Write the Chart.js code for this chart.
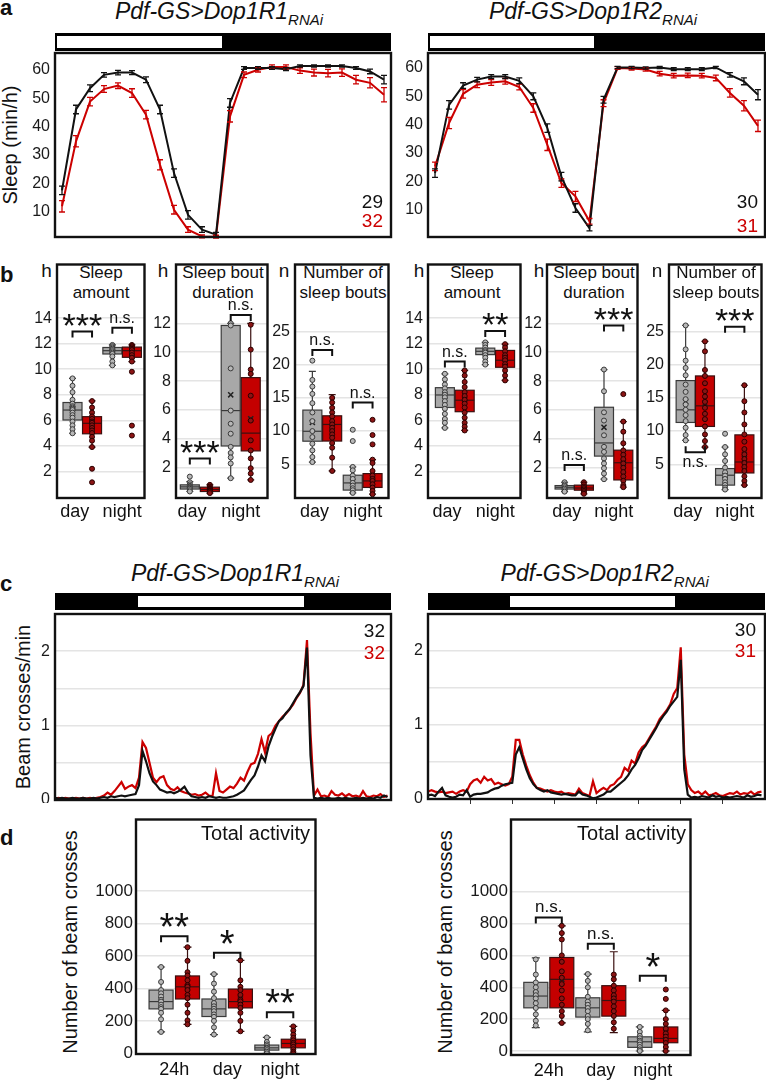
<!DOCTYPE html>
<html>
<head>
<meta charset="utf-8">
<script src="https://cdn.jsdelivr.net/npm/chart.js@4.4.0/dist/chart.umd.min.js"></script>
<style>
  body { margin: 0; background: #fff; }
  #fig { position: relative; width: 766px; height: 1080px; overflow: hidden;
         font-family: 'Liberation Sans', Arial, sans-serif; color: #111; }
  .t { position: absolute; white-space: nowrap; line-height: 1; }
  .t sub { font-size: 15px; vertical-align: baseline; position: relative; top: 6px; }
  canvas { position: absolute; }
  .lbar { position: absolute; background: #000; }
  .lbar div { position: absolute; top: 3px; bottom: 3px; background: #fff; }
</style>
</head>
<body>
<div id="fig"></div>
<script>
// ---- panel a: sleep profile (min/h), 24 hourly bins, ZT0-23
const sleepTicks = [10, 20, 30, 40, 50, 60];
const r1SleepCtrl = [17.5, 46, 53.5, 58.2, 59, 59, 56.5, 46, 23.6, 8.9, 3.7, 1.9, 48.3, 60.6, 60.6, 60.6, 60.2, 61.3, 61.3, 61.3, 61.3, 60.6, 59.4, 56.5];
const r1SleepCtrlSem = [1.5, 1.5, 1.2, 0.8, 0.8, 0.7, 1, 1.5, 1.5, 1.5, 1, 0.8, 1.5, 0.5, 0.5, 0.5, 0.5, 0.4, 0.4, 0.4, 0.4, 0.5, 0.8, 1.5];
const r1SleepRnai = [11.9, 34.8, 48.8, 53.2, 54.4, 51.8, 44.2, 26.5, 10.7, 3.7, 1.3, 1.2, 43.6, 58.2, 60.0, 61.0, 61.0, 59.7, 59.0, 58.8, 59.0, 56.5, 55.4, 51.2];
const r1SleepRnaiSem = [2, 2, 1.5, 1.2, 1, 1.5, 1.5, 1.8, 1.5, 1, 0.5, 0.5, 2, 1, 0.8, 0.7, 0.7, 1, 1.2, 1.3, 1.3, 1.5, 1.8, 2.5];
const r2SleepCtrl = [22.9, 47, 53.8, 55.9, 57, 57, 55.5, 50, 38.8, 21.7, 10.6, 3.5, 48.8, 60.2, 60.2, 60, 60.2, 59.6, 59.6, 59.6, 60.2, 57.6, 55.3, 50.6];
const r2SleepCtrlSem = [1.5, 1.5, 1, 0.8, 0.7, 0.7, 1, 1.2, 1.5, 1.5, 1.5, 1, 1.2, 0.4, 0.4, 0.4, 0.4, 0.5, 0.5, 0.5, 0.4, 0.8, 1.2, 1.8];
const r2SleepRnai = [25.3, 40.6, 50.9, 54.1, 54.9, 55.3, 53.3, 45.9, 32.9, 19.4, 14.7, 5.9, 47.6, 60, 59.8, 59.5, 58, 57.3, 57.4, 57.3, 56.5, 51.2, 46.7, 39.6];
const r2SleepRnaiSem = [1.5, 2, 1.5, 1, 1, 1, 1, 1.5, 2, 1.5, 1.8, 1, 1.2, 0.5, 0.5, 0.6, 0.8, 0.8, 0.8, 0.8, 1, 1.5, 1.8, 2];
const r1N = ['29', '32'];
const r2N = ['30', '31'];

// ---- panel b: sleep parameters, boxes as [min, q1, median, q3, max]
const bCats = ['day', 'night'];
const amountTicks = [2, 4, 6, 8, 10, 12, 14];
const boutTicks = [2, 4, 6, 8, 10, 12];
const countTicks = [5, 10, 15, 20, 25];

const r1AmountCtrlBox = [[4.98, 6.02, 6.8, 7.39, 9.28], [10.3, 11.19, 11.45, 11.7, 11.9]];
const r1AmountRnaiBox = [[3.9, 4.94, 5.76, 6.28, 7.52], [10.6, 10.93, 11.45, 11.73, 11.9]];
const r1AmountCtrlMean = [6.9, 11.4];
const r1AmountRnaiMean = [5.6, 11.0];
const r1AmountCtrlPts = [[9.28, 8.7, 8.2, 7.6, 7.3, 7.1, 7.0, 6.9, 6.8, 6.6, 6.4, 6.2, 5.9, 5.6, 5.3, 4.98], [11.9, 11.8, 11.7, 11.6, 11.5, 11.4, 11.3, 11.2, 11.0, 10.6, 10.3]];
const r1AmountRnaiPts = [[7.5, 7.0, 6.6, 6.3, 6.1, 5.9, 5.8, 5.6, 5.4, 5.2, 5.0, 4.7, 4.4, 3.9, 2.2, 1.14], [11.9, 11.8, 11.7, 11.6, 11.5, 11.3, 11.1, 10.9, 10.6, 9.8, 5.58, 4.8]];
const r1AmountSig = ['***', 'n.s.'];

const r1BoutCtrlBox = [[0.36, 0.53, 0.68, 0.82, 1.05], [1.28, 3.51, 5.96, 11.85, 12.0]];
const r1BoutRnaiBox = [[0.25, 0.36, 0.5, 0.66, 0.82], [1.16, 3.17, 4.4, 8.24, 12.0]];
const r1BoutCtrlMean = [0.7, 7.05];
const r1BoutRnaiMean = [0.5, 5.39];
const r1BoutCtrlPts = [[1.39, 1.0, 0.85, 0.75, 0.7, 0.65, 0.6, 0.55, 0.45, 0.36], [12.0, 11.85, 8.88, 5.96, 5.05, 4.36, 3.45, 3.03, 2.72, 2.3, 1.28]];
const r1BoutRnaiPts = [[0.82, 0.7, 0.6, 0.55, 0.5, 0.45, 0.4, 0.35, 0.25], [11.9, 10.18, 8.8, 8.5, 6.99, 5.27, 3.9, 3.2, 2.65, 1.97, 1.6, 1.16]];
const r1BoutSig = ['***', 'n.s.'];

const r1CountCtrlBox = [[5.34, 8.48, 9.97, 13.16, 19.0], [0.7, 1.12, 2.2, 3.36, 4.6]];
const r1CountRnaiBox = [[4.0, 8.5, 11.0, 12.3, 15.5], [0.5, 1.52, 2.5, 3.6, 5.7]];
const r1CountCtrlMean = [11.3, 2.4];
const r1CountRnaiMean = [10.5, 2.7];
const r1CountCtrlPts = [[20.6, 17.7, 16.7, 15.6, 14.2, 12.8, 11.5, 10.0, 9.1, 8.1, 7.1, 6.1, 5.34], [10.2, 8.5, 4.6, 4.1, 3.3, 2.8, 2.2, 1.8, 1.4, 1.1, 0.7]];
const r1CountRnaiPts = [[15.0, 14.3, 13.5, 12.8, 12.2, 11.5, 11.0, 10.5, 10.0, 9.5, 9.0, 8.2, 7.5, 6.0, 4.0], [11.7, 9.4, 8.0, 5.7, 5.2, 4.0, 3.3, 2.8, 2.5, 2.0, 1.5, 1.0, 0.5]];
const r1CountSig = ['n.s.', 'n.s.'];

const r2AmountCtrlBox = [[5.4, 7.0, 7.98, 8.55, 9.64], [10.36, 11.14, 11.4, 11.65, 12.1]];
const r2AmountRnaiBox = [[5.2, 6.67, 7.57, 8.35, 9.9], [9.12, 10.15, 10.7, 11.47, 11.96]];
const r2AmountCtrlMean = [7.9, 11.4];
const r2AmountRnaiMean = [7.6, 10.8];
const r2AmountCtrlPts = [[9.64, 9.2, 8.8, 8.5, 8.2, 8.0, 7.8, 7.5, 7.2, 6.9, 6.5, 6.1, 5.8, 5.4], [12.1, 11.9, 11.7, 11.5, 11.4, 11.3, 11.1, 10.9, 10.6, 10.36]];
const r2AmountRnaiPts = [[9.9, 9.5, 9.0, 8.6, 8.2, 7.9, 7.6, 7.3, 7.0, 6.6, 6.2, 5.8, 5.5, 5.2], [11.96, 11.7, 11.4, 11.1, 10.9, 10.7, 10.4, 10.2, 9.9, 9.5, 9.12]];
const r2AmountSig = ['n.s.', '**'];

const r2BoutCtrlBox = [[0.35, 0.53, 0.65, 0.77, 1.0], [1.21, 2.81, 3.72, 6.19, 8.8]];
const r2BoutRnaiBox = [[0.2, 0.45, 0.6, 0.8, 1.0], [0.66, 1.16, 2.35, 3.22, 5.2]];
const r2BoutCtrlMean = [0.65, 4.8];
const r2BoutRnaiMean = [0.6, 2.3];
const r2BoutCtrlPts = [[1.0, 0.85, 0.75, 0.65, 0.55, 0.45, 0.35], [8.8, 7.3, 5.84, 5.27, 4.25, 3.45, 3.1, 2.65, 2.3, 1.97, 1.6, 1.21]];
const r2BoutRnaiPts = [[1.0, 0.85, 0.7, 0.6, 0.5, 0.4, 0.3, 0.2], [7.1, 5.2, 4.5, 3.7, 3.2, 2.9, 2.6, 2.3, 2.0, 1.7, 1.4, 1.1, 0.8, 0.66]];
const r2BoutSig = ['n.s.', '***'];

const r2CountCtrlBox = [[8.6, 11.3, 13.2, 17.6, 25.9], [1.2, 1.87, 3.36, 4.36, 7.6]];
const r2CountRnaiBox = [[7.6, 10.7, 13.8, 18.3, 23.5], [1.87, 3.7, 5.35, 9.43, 16.9]];
const r2CountCtrlMean = [14.4, 3.3];
const r2CountRnaiMean = [14.2, 6.5];
const r2CountCtrlPts = [[25.9, 22.3, 20.6, 19.5, 18.4, 17.0, 15.9, 14.8, 14.0, 13.2, 12.4, 11.5, 10.5, 9.4, 8.6], [9.6, 7.6, 6.5, 5.5, 4.5, 3.8, 3.3, 2.8, 2.3, 1.9, 1.5, 1.2]];
const r2CountRnaiPts = [[23.5, 22.0, 19.2, 18.3, 17.2, 16.0, 15.2, 14.4, 13.5, 12.6, 11.8, 10.7, 9.5, 8.5, 7.6], [16.9, 14.5, 12.8, 11.0, 9.5, 8.4, 7.3, 6.5, 5.8, 5.2, 4.6, 4.0, 3.2, 2.5, 1.87]];
const r2CountSig = ['n.s.', '***'];

// ---- panel c: activity (beam crosses/min), 15-min bins from ZT18 to ZT42
const beamTicks = [0, 0.5, 1, 1.5, 2];
const r1BeamCtrl = [0.03, 0.02, 0.03, 0.02, 0.02, 0.03, 0.02, 0.02, 0.03, 0.02, 0.02, 0.03, 0.02, 0.03,
  0.04, 0.03, 0.05, 0.04, 0.05, 0.06, 0.05, 0.06, 0.07, 0.08,
  0.2, 0.66, 0.52, 0.36, 0.25, 0.2, 0.14, 0.12, 0.1, 0.11, 0.09, 0.11, 0.14, 0.18,
  0.1, 0.05, 0.04, 0.03, 0.04, 0.03, 0.05, 0.04, 0.03, 0.04, 0.03, 0.03, 0.04, 0.05, 0.07, 0.1,
  0.13, 0.2, 0.27, 0.33, 0.45, 0.6, 0.52, 0.72, 0.85, 0.96, 1.06, 1.1, 1.17, 1.22, 1.3, 1.38, 1.45, 1.53,
  2.05, 0.6, 0.03, 0.02, 0.03, 0.02, 0.03, 0.02, 0.02, 0.03, 0.02, 0.03, 0.02, 0.02, 0.03, 0.02, 0.03, 0.02, 0.03, 0.02, 0.04, 0.03, 0.06, 0.04];
const r1BeamRnai = [0.02, 0.03, 0.02, 0.03, 0.02, 0.02, 0.03, 0.02, 0.03, 0.02, 0.03, 0.02, 0.03, 0.04,
  0.06, 0.1, 0.07, 0.12, 0.18, 0.24, 0.15, 0.18, 0.2, 0.16,
  0.3, 0.78, 0.7, 0.5, 0.3, 0.24, 0.3, 0.32, 0.2, 0.15, 0.13, 0.17, 0.12, 0.1,
  0.09, 0.07, 0.08, 0.06, 0.07, 0.1, 0.06, 0.05, 0.36, 0.12, 0.1, 0.14, 0.18, 0.16, 0.22, 0.3,
  0.26, 0.38, 0.48, 0.5, 0.62, 0.82, 0.64, 0.86, 0.9, 1.0, 1.06, 1.12, 1.16, 1.22, 1.28, 1.37, 1.44, 1.55,
  2.15, 0.9, 0.06, 0.14, 0.05, 0.06, 0.04, 0.12, 0.07, 0.06, 0.09, 0.05, 0.08, 0.05, 0.06, 0.04, 0.12, 0.05, 0.04, 0.06, 0.05, 0.08, 0.04, 0.06];
const r2BeamCtrl = [0.05, 0.06, 0.04, 0.1, 0.15, 0.05, 0.03, 0.02, 0.03, 0.06, 0.05, 0.12, 0.03, 0.06,
  0.07, 0.07, 0.08, 0.09, 0.12, 0.14, 0.15, 0.18, 0.2, 0.21,
  0.22, 0.6, 0.7, 0.55, 0.4, 0.28, 0.2, 0.15, 0.12, 0.1, 0.12, 0.09, 0.08, 0.07,
  0.06, 0.07, 0.06, 0.05, 0.05, 0.1, 0.06, 0.05, 0.03, 0.01, 0.02, 0.04, 0.06, 0.1, 0.1, 0.14,
  0.18, 0.22, 0.26, 0.32, 0.4, 0.46, 0.55, 0.66, 0.72, 0.8, 0.88, 0.96, 1.05, 1.12, 1.18, 1.26, 1.32, 1.38,
  1.88, 0.4, 0.06, 0.02, 0.03, 0.02, 0.04, 0.03, 0.02, 0.05, 0.03, 0.04, 0.02, 0.03, 0.02, 0.03, 0.04, 0.03, 0.02, 0.05, 0.03, 0.04, 0.06, 0.05];
const r2BeamRnai = [0.1, 0.12, 0.1, 0.09, 0.1, 0.08, 0.09, 0.1, 0.07, 0.1, 0.12, 0.1, 0.2, 0.25,
  0.27, 0.22, 0.3, 0.25, 0.27, 0.2, 0.22, 0.2, 0.18, 0.2,
  0.3, 0.8, 0.8, 0.6, 0.45, 0.32, 0.22, 0.15, 0.14, 0.12, 0.1, 0.12, 0.1, 0.09,
  0.1, 0.07, 0.08, 0.07, 0.06, 0.14, 0.08, 0.06, 0.04, 0.24, 0.08, 0.12, 0.15, 0.12, 0.18, 0.2,
  0.26, 0.3, 0.42, 0.38, 0.52, 0.48, 0.63, 0.7, 0.74, 0.82, 0.9, 0.98, 1.08, 1.14, 1.2, 1.28, 1.42, 1.5,
  2.05, 0.6, 0.2, 0.12, 0.08, 0.1, 0.06, 0.1, 0.05, 0.06, 0.08, 0.05, 0.04, 0.06, 0.08, 0.07, 0.1, 0.06, 0.08, 0.07, 0.1, 0.06, 0.09, 0.1];
const r1BeamN = ['32', '32'];
const r2BeamN = ['30', '31'];

// ---- panel d: total activity (beam crosses)
const totalCats = ['24h', 'day', 'night'];
const totalTicks = [0, 200, 400, 600, 800, 1000];
const r1TotalCtrlBox = [[132, 274, 319, 390, 532], [116, 227, 274, 335, 488], [0, 20, 34, 51, 98]];
const r1TotalRnaiBox = [[179, 335, 410, 477, 654], [136, 280, 319, 396, 573], [0, 34, 61, 87, 166]];
const r1TotalCtrlMean = [330, 285, 38];
const r1TotalRnaiMean = [410, 335, 65];
const r1TotalCtrlPts = [[532, 440, 390, 370, 350, 330, 319, 300, 285, 274, 250, 210, 132], [488, 430, 380, 340, 310, 290, 275, 260, 240, 225, 200, 160, 116], [98, 70, 55, 45, 35, 30, 20, 10, 0]];
const r1TotalRnaiPts = [[654, 570, 500, 480, 450, 420, 410, 390, 360, 340, 300, 250, 203, 179], [573, 450, 410, 390, 360, 330, 320, 300, 280, 250, 200, 136], [166, 140, 115, 95, 80, 65, 55, 40, 25, 10, 0]];
const r1TotalSig = ['**', '*', '**'];

const r2TotalCtrlBox = [[147, 271, 345, 431, 584], [120, 213, 271, 334, 483], [0, 23, 58, 89, 151]];
const r2TotalRnaiBox = [[176, 271, 450, 587, 786], [116, 219, 317, 410, 623], [0, 52, 79, 151, 255]];
const r2TotalCtrlMean = [360, 280, 65];
const r2TotalRnaiMean = [450, 330, 115];
const r2TotalCtrlPts = [[575, 480, 430, 400, 370, 350, 330, 300, 270, 230, 190, 160], [483, 440, 400, 340, 310, 290, 270, 250, 220, 200, 170, 130], [151, 120, 95, 80, 65, 55, 40, 25, 10, 0]];
const r2TotalRnaiPts = [[786, 740, 700, 600, 560, 500, 460, 420, 380, 330, 290, 250, 220, 176], [480, 450, 410, 380, 350, 330, 310, 280, 250, 220, 180, 140], [386, 327, 255, 200, 170, 140, 110, 90, 70, 50, 25, 0]];
const r2TotalSig = ['n.s.', 'n.s.', '*'];

// ---------------------------------------------------------------
const FONT = "'Liberation Sans', Arial, sans-serif";
const RED = '#cc0000';
const CTRL = { box: '#a8a8a8', edge: '#3a3a3a', pt: '#b8b8b8', ptEdge: '#3a3a3a' };
const RNAI = { box: '#c40000', edge: '#3a1010', pt: '#8a1414', ptEdge: '#2a0000' };
const fig = document.getElementById('fig');

Chart.defaults.font.family = FONT;
Chart.defaults.color = '#1a1a1a';
Chart.defaults.animation = false;
Chart.defaults.plugins.legend.display = false;
Chart.defaults.plugins.tooltip.enabled = false;

// frame round the plot area
const frame = {
  id: 'frame',
  afterDraw(chart) {
    const { ctx, chartArea: a } = chart;
    ctx.save();
    ctx.strokeStyle = '#111';
    ctx.lineWidth = 2.4;
    ctx.strokeRect(a.left, a.top, a.right - a.left, a.bottom - a.top);
    ctx.restore();
  }
};

// SEM bars for the sleep profiles
const errorBars = {
  id: 'errorBars',
  afterDatasetsDraw(chart) {
    const { ctx, scales: { y } } = chart;
    for (let d = chart.data.datasets.length - 1; d >= 0; d--) {
      const ds = chart.data.datasets[d];
      if (!ds.sem) continue;
      ctx.save();
      ctx.strokeStyle = ds.borderColor;
      ctx.lineWidth = 1.3;
      chart.getDatasetMeta(d).data.forEach((p, i) => {
        const v = ds.data[i].y, e = ds.sem[i];
        const top = y.getPixelForValue(v + e), bot = y.getPixelForValue(v - e);
        ctx.beginPath();
        ctx.moveTo(p.x, top); ctx.lineTo(p.x, bot);
        ctx.moveTo(p.x - 3, top); ctx.lineTo(p.x + 3, top);
        ctx.moveTo(p.x - 3, bot); ctx.lineTo(p.x + 3, bot);
        ctx.stroke();
      });
      ctx.restore();
    }
  }
};

// box + whiskers behind the individual points
const boxes = {
  id: 'boxes',
  beforeDatasetsDraw(chart) {
    const { ctx, scales: { x, y } } = chart;
    chart.data.datasets.forEach(ds => {
      if (!ds.box) return;
      const [lo, q1, md, q3, hi] = ds.box.map(v => y.getPixelForValue(v));
      const xc = x.getPixelForValue(ds.pos), hw = ds.boxW / 2, cw = ds.capW / 2;
      ctx.save();
      ctx.strokeStyle = ds.edge;
      ctx.lineWidth = 1.2;
      ctx.beginPath();
      ctx.moveTo(xc, hi); ctx.lineTo(xc, lo);
      ctx.moveTo(xc - cw, hi); ctx.lineTo(xc + cw, hi);
      ctx.moveTo(xc - cw, lo); ctx.lineTo(xc + cw, lo);
      ctx.stroke();
      ctx.fillStyle = ds.fill;
      ctx.fillRect(xc - hw, q3, 2 * hw, q1 - q3);
      ctx.strokeRect(xc - hw, q3, 2 * hw, q1 - q3);
      ctx.beginPath();
      ctx.moveTo(xc - hw, md); ctx.lineTo(xc + hw, md);
      ctx.stroke();
      ctx.restore();
    });
  }
};

// significance brackets
const sigMarks = {
  id: 'sigMarks',
  afterDatasetsDraw(chart, args, opts) {
    if (!opts.marks) return;
    const { ctx, scales: { x, y } } = chart;
    opts.marks.forEach(m => {
      const x1 = x.getPixelForValue(m.x1), x2 = x.getPixelForValue(m.x2), yy = y.getPixelForValue(m.y);
      const leg = m.down ? -6 : 6;
      ctx.save();
      ctx.strokeStyle = '#111';
      ctx.lineWidth = 2;
      ctx.beginPath();
      ctx.moveTo(x1, yy + leg); ctx.lineTo(x1, yy); ctx.lineTo(x2, yy); ctx.lineTo(x2, yy + leg);
      ctx.stroke();
      ctx.fillStyle = '#111';
      ctx.textAlign = 'center';
      ctx.textBaseline = 'alphabetic';
      const xc = (x1 + x2) / 2;
      if (m.text[0] === '*') {
        ctx.font = opts.star + 'px ' + FONT;
        ctx.fillText(m.text, xc, yy - opts.starGap + 0.575 * opts.star);
      } else {
        ctx.font = opts.ns + 'px ' + FONT;
        ctx.fillText(m.text, xc, m.down ? yy + 15 : yy - 5);
      }
      ctx.restore();
    });
  }
};

Chart.register(frame, errorBars, boxes, sigMarks);

// ---------------------------------------------------------------
const PAD = 3;
function canvasFor(box, axisW, axisH) {
  const c = document.createElement('canvas');
  const w = box[2] - box[0] + axisW + PAD, h = box[3] - box[1] + axisH + 2 * PAD;
  c.width = w; c.height = h;
  c.style.left = (box[0] - axisW) + 'px';
  c.style.top = (box[1] - PAD) + 'px';
  c.style.width = w + 'px'; c.style.height = h + 'px';
  fig.appendChild(c);
  return c;
}

function yAxis(min, max, ticks, w, opt) {
  return {
    type: 'linear', min, max,
    afterBuildTicks: s => { s.ticks = ticks.map(v => ({ value: v })); },
    afterFit: s => { s.width = w; s.paddingTop = 0; s.paddingBottom = 0; },
    grid: { display: opt.grid, drawTicks: false, color: '#e4e4e4', lineWidth: 1.5 },
    border: { display: false },
    ticks: { padding: opt.pad, color: '#1a1a1a', font: { size: opt.size }, callback: opt.fmt || (v => v) }
  };
}

function xAxis(min, max, ticks, labels, h, opt) {
  opt = opt || {};
  return {
    type: 'linear', min, max,
    display: h > 0,
    afterBuildTicks: s => { s.ticks = ticks.map(v => ({ value: v })); },
    afterFit: s => { s.height = h; s.paddingLeft = 0; s.paddingRight = 0; },
    grid: opt.marks ? { display: true, drawOnChartArea: false, drawTicks: true, tickLength: 5, color: '#333', lineWidth: 1 } : { display: false },
    border: { display: false },
    ticks: { padding: opt.pad || 0, maxRotation: 0, autoSkip: false, color: '#111', font: { size: opt.size || 15 },
             callback: (v, i) => labels ? labels[i] : '' }
  };
}

function baseOptions(scales, plugins) {
  return {
    responsive: false, maintainAspectRatio: false, devicePixelRatio: 1, animation: false,
    layout: { padding: { top: PAD, right: PAD, bottom: PAD, left: 0 } },
    scales, plugins: plugins || {}
  };
}

function profileChart(box, ctrl, ctrlSem, rnai, rnaiSem, yr) {
  const cv = canvasFor(box, 40, 0);
  new Chart(cv, {
    type: 'line',
    data: {
      datasets: [
        { data: ctrl.map((v, i) => ({ x: i, y: v })), sem: ctrlSem, borderColor: '#111', borderWidth: 2, pointRadius: 0, tension: 0 },
        { data: rnai.map((v, i) => ({ x: i, y: v })), sem: rnaiSem, borderColor: RED, borderWidth: 2, pointRadius: 0, tension: 0 }
      ]
    },
    options: baseOptions({
      x: xAxis(-0.5, 23.5, [], null, 0),
      y: yAxis(yr[0], yr[1], sleepTicks, 40, { grid: false, pad: 5, size: 16 })
    })
  });
}

function beamChart(box, ctrl, rnai, marks) {
  const cv = canvasFor(box, 40, marks ? 6 : 0);
  new Chart(cv, {
    type: 'line',
    data: {
      datasets: [
        { data: ctrl.map((v, i) => ({ x: i, y: v })), borderColor: '#111', borderWidth: 2.2, pointRadius: 0, tension: 0 },
        { data: rnai.map((v, i) => ({ x: i, y: v })), borderColor: RED, borderWidth: 2.2, pointRadius: 0, tension: 0 }
      ]
    },
    options: baseOptions({
      x: xAxis(0, 96, marks ? [12, 24, 36, 48, 60, 72, 84] : [], null, marks ? 6 : 0, { marks }),
      y: yAxis(0, 2.5, beamTicks, 40, { grid: true, pad: 5, size: 16, fmt: v => (Number.isInteger(v) ? v : '') })
    })
  });
}

function boxChart(box, o) {
  const cv = canvasFor(box, o.axisW, o.axisH);
  const ds = [], marks = [];
  o.cats.forEach((c, i) => {
    const xc = i + 1;
    [[o.ctrlBox, o.ctrlMean, o.ctrlPts, CTRL, -1], [o.rnaiBox, o.rnaiMean, o.rnaiPts, RNAI, 1]].forEach(([bx, mean, pts, col, side]) => {
      const x = xc + side * o.off;
      ds.push({ data: pts[i].map(v => ({ x, y: v })), box: bx[i], pos: x, boxW: o.boxW, capW: o.capW,
        fill: col.box, edge: col.edge, pointRadius: 2.5, backgroundColor: col.pt, borderColor: col.ptEdge, borderWidth: 1 });
      ds.push({ data: [{ x, y: mean[i] }], pointStyle: 'crossRot', pointRadius: 3.6, borderColor: '#222', borderWidth: 1.5, backgroundColor: '#222' });
    });
    marks.push({ x1: xc - o.off, x2: xc + o.off, y: o.sigY[i], text: o.sig[i], down: o.down ? o.down[i] : false });
  });
  new Chart(cv, {
    type: 'scatter',
    data: { datasets: ds },
    options: baseOptions({
      x: xAxis(o.xr[0], o.xr[1], o.labelAt, o.cats, o.axisH, { pad: o.xPad, size: 18 }),
      y: yAxis(o.yr[0], o.yr[1], o.ticks, o.axisW, { grid: true, pad: o.yPad, size: o.tickSize })
    }, { sigMarks: { marks, star: o.star, starGap: o.starGap, ns: o.ns } })
  });
}

// ---------------------------------------------------------------
function txt(html, x, baseline, size, align, css) {
  const d = document.createElement('div');
  d.className = 't';
  d.innerHTML = html;
  d.style.fontSize = size + 'px';
  d.style.left = x + 'px';
  d.style.top = (baseline - 0.846 * size) + 'px';
  d.style.transform = align === 'right' ? 'translateX(-100%)' : align === 'left' ? 'none' : 'translateX(-50%)';
  if (css) Object.assign(d.style, css);
  fig.appendChild(d);
  return d;
}
function vtxt(html, cx, cy, size) {
  const d = document.createElement('div');
  d.className = 't';
  d.innerHTML = html;
  d.style.fontSize = size + 'px';
  d.style.left = cx + 'px';
  d.style.top = cy + 'px';
  d.style.transform = 'translate(-50%,-50%) rotate(-90deg)';
  fig.appendChild(d);
}
function ldBar(left, top, width, height, wl, wr) {
  const b = document.createElement('div');
  b.className = 'lbar';
  Object.assign(b.style, { left: left + 'px', top: top + 'px', width: width + 'px', height: height + 'px' });
  const w = document.createElement('div');
  Object.assign(w.style, { left: (wl - left) + 'px', width: (wr - wl) + 'px' });
  b.appendChild(w);
  fig.appendChild(b);
}

// panel letters
['a', 'b', 'c', 'd'].forEach((l, i) => txt(l, 0, [16, 283, 592, 846][i], 22, 'left', { fontWeight: 'bold' }));

// ---- a
const r1Title = '<i>Pdf-GS&gt;Dop1R1<sub>RNAi</sub></i>';
const r2Title = '<i>Pdf-GS&gt;Dop1R2<sub>RNAi</sub></i>';
txt(r1Title, 219, 19.5, 23);
txt(r2Title, 593, 19.5, 23);
ldBar(55, 33, 336, 18, 57, 222);
ldBar(428, 33, 337, 18, 430, 594);
vtxt('Sleep (min/h)', 9.5, 145, 20);
profileChart([55, 53, 391, 237], r1SleepCtrl, r1SleepCtrlSem, r1SleepRnai, r1SleepRnaiSem, [1.09, 65.9]);
profileChart([428, 53, 765, 237], r2SleepCtrl, r2SleepCtrlSem, r2SleepRnai, r2SleepRnaiSem, [0.37, 65.3]);
txt(r1N[0], 383, 208.3, 19, 'right');
txt(r1N[1], 383, 226.7, 19, 'right', { color: RED });
txt(r2N[0], 758, 208.3, 19, 'right');
txt(r2N[1], 758, 231.7, 19, 'right', { color: RED });

// ---- b
const bCommon = { cats: bCats, off: 0.245, boxW: 19, capW: 7, axisW: 30, axisH: 30, xPad: -5, yPad: 5, tickSize: 16,
  labelAt: [0.81, 2], star: 34, starGap: 14, ns: 16 };
const bTitles = [['Sleep<br>amount', 101], ['Sleep bout<br>duration', 223], ['Number of<br>sleep bouts', 343],
                 ['Sleep<br>amount', 472], ['Sleep bout<br>duration', 594], ['Number of<br>sleep bouts', 716]];
bTitles.forEach(([t, x]) => txt(t, x, 278.3, 17, 'center', { lineHeight: '20px', textAlign: 'center', top: '263px' }));
[['h', 46.5], ['h', 163], ['n', 284], ['h', 419], ['h', 539], ['n', 657]].forEach(([u, x]) => txt(u, x, 276.7, 19));

boxChart([57, 262, 147, 498], Object.assign({}, bCommon, {
  ctrlBox: r1AmountCtrlBox, rnaiBox: r1AmountRnaiBox, ctrlMean: r1AmountCtrlMean, rnaiMean: r1AmountRnaiMean,
  ctrlPts: r1AmountCtrlPts, rnaiPts: r1AmountRnaiPts, sig: r1AmountSig, sigY: [12.95, 13.25],
  xr: [0.366, 2.561], yr: [-0.09, 18.2], ticks: amountTicks }));
boxChart([176, 262, 270, 498], Object.assign({}, bCommon, {
  ctrlBox: r1BoutCtrlBox, rnaiBox: r1BoutRnaiBox, ctrlMean: r1BoutCtrlMean, rnaiMean: r1BoutRnaiMean,
  ctrlPts: r1BoutCtrlPts, rnaiPts: r1BoutRnaiPts, sig: r1BoutSig, sigY: [2.65, 12.58],
  xr: [0.417, 2.655], yr: [-0.09, 16.07], ticks: boutTicks }));
boxChart([295, 262, 391, 498], Object.assign({}, bCommon, {
  ctrlBox: r1CountCtrlBox, rnaiBox: r1CountRnaiBox, ctrlMean: r1CountCtrlMean, rnaiMean: r1CountRnaiMean,
  ctrlPts: r1CountCtrlPts, rnaiPts: r1CountRnaiPts, sig: r1CountSig, sigY: [22.2, 14.3],
  xr: [0.325, 2.64], yr: [-0.07, 35.07], ticks: countTicks }));
boxChart([428, 262, 523, 498], Object.assign({}, bCommon, {
  ctrlBox: r2AmountCtrlBox, rnaiBox: r2AmountRnaiBox, ctrlMean: r2AmountCtrlMean, rnaiMean: r2AmountRnaiMean,
  ctrlPts: r2AmountCtrlPts, rnaiPts: r2AmountRnaiPts, sig: r2AmountSig, sigY: [10.6, 13.0],
  xr: [0.337, 2.627], yr: [-0.09, 18.2], ticks: amountTicks }));
boxChart([547, 262, 640, 498], Object.assign({}, bCommon, {
  ctrlBox: r2BoutCtrlBox, rnaiBox: r2BoutRnaiBox, ctrlMean: r2BoutCtrlMean, rnaiMean: r2BoutRnaiMean,
  ctrlPts: r2BoutCtrlPts, rnaiPts: r2BoutRnaiPts, sig: r2BoutSig, sigY: [2.19, 11.85],
  xr: [0.309, 2.605], yr: [-0.09, 16.07], ticks: boutTicks }));
boxChart([669, 262, 764, 498], Object.assign({}, bCommon, {
  ctrlBox: r2CountCtrlBox, rnaiBox: r2CountRnaiBox, ctrlMean: r2CountCtrlMean, rnaiMean: r2CountRnaiMean,
  ctrlPts: r2CountCtrlPts, rnaiPts: r2CountRnaiPts, sig: r2CountSig, sigY: [6.8, 25.7], down: [true, false],
  xr: [0.333, 2.679], yr: [-0.07, 35.07], ticks: countTicks }));

// ---- c
txt(r1Title, 235, 581.7, 23);
txt(r2Title, 604.7, 581.7, 23);
ldBar(55, 593, 336, 17, 138, 304);
ldBar(428, 593, 337, 17, 509.7, 674.7);
vtxt('Beam crosses/min', 23, 707, 20);
beamChart([55, 614, 391, 800], r1BeamCtrl, r1BeamRnai, false);
beamChart([428, 614, 765, 799], r2BeamCtrl, r2BeamRnai, true);
txt(r1BeamN[0], 385, 636.7, 19, 'right');
txt(r1BeamN[1], 385, 659.3, 19, 'right', { color: RED });
txt(r2BeamN[0], 756, 636, 19, 'right');
txt(r2BeamN[1], 756, 657.3, 19, 'right', { color: RED });

// ---- d
const dCommon = { cats: totalCats, off: 0.25, boxW: 24, capW: 8, axisW: 50, axisH: 30, xPad: -3, yPad: 3, tickSize: 17,
  labelAt: [1, 2, 3], star: 38, starGap: 18, ns: 17, ticks: totalTicks };
vtxt('Number of beam crosses', 69.5, 942, 20);
vtxt('Number of beam crosses', 444.5, 942, 20);
boxChart([136, 817, 318, 1054], Object.assign({}, dCommon, {
  ctrlBox: r1TotalCtrlBox, rnaiBox: r1TotalRnaiBox, ctrlMean: r1TotalCtrlMean, rnaiMean: r1TotalRnaiMean,
  ctrlPts: r1TotalCtrlPts, rnaiPts: r1TotalRnaiPts, sig: r1TotalSig, sigY: [721, 620, 254],
  xr: [0.276, 3.67], yr: [-4, 1441] }));
boxChart([511, 817, 693, 1055], Object.assign({}, dCommon, {
  ctrlBox: r2TotalCtrlBox, rnaiBox: r2TotalRnaiBox, ctrlMean: r2TotalCtrlMean, rnaiMean: r2TotalRnaiMean,
  ctrlPts: r2TotalCtrlPts, rnaiPts: r2TotalRnaiPts, sig: r2TotalSig, sigY: [838, 673, 472],
  xr: [0.273, 3.725], yr: [-25, 1453] }));
txt('Total activity', 310, 840, 20, 'right');
txt('Total activity', 686, 840, 20, 'right');
</script>
</body>
</html>
